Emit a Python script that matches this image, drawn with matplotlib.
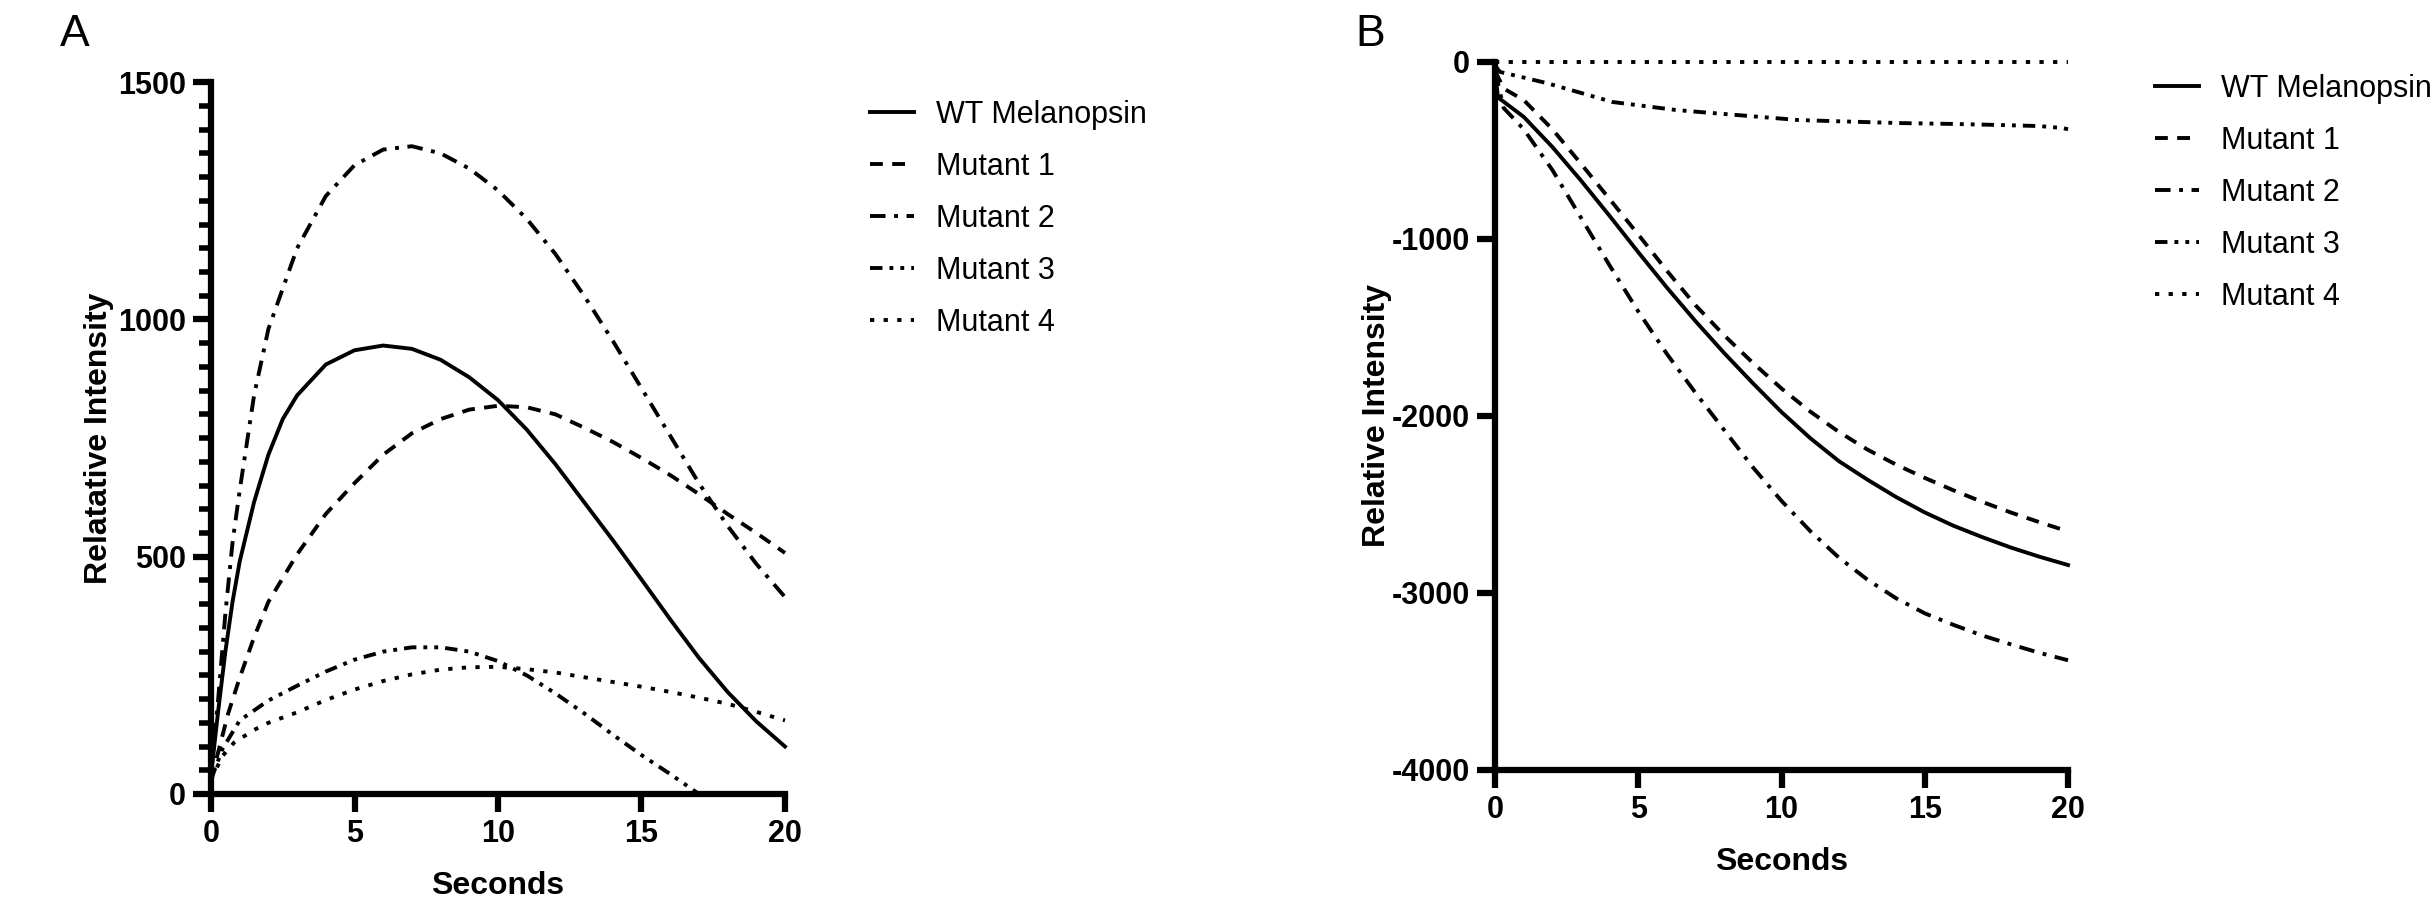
import numpy as np
import matplotlib.pyplot as plt
from matplotlib.ticker import MultipleLocator

plt.rcParams['font.family'] = ['Liberation Sans', 'DejaVu Sans']
plt.rcParams['axes.unicode_minus'] = False

labels = ['WT Melanopsin', 'Mutant 1', 'Mutant 2', 'Mutant 3', 'Mutant 4']
styles = ['-', (0, (3.3, 2.4)), (0, (4, 2.2, 1, 2.2)), (0, (3.2, 1.8, 1, 1.8, 1, 1.8)), (0, (1.1, 2.4))]

# panel A
a_wt_t = [0, 0.25, 0.5, 0.75, 1, 1.5, 2, 2.5, 3, 4, 5, 6, 7, 8, 9, 10, 11, 12, 13, 14, 15, 16, 17, 18, 19, 20]
a_wt_y = [40, 175, 300, 405, 490, 615, 715, 790, 840, 905, 935, 945, 938, 915, 878, 830, 768, 695, 615, 535, 452, 368, 287, 215, 153, 100]

a_m1_t = [0, 0.3, 0.6, 1, 1.5, 2, 3, 4, 5, 6, 7, 8, 9, 10, 11, 12, 13, 14, 15, 16, 17, 18, 19, 20]
a_m1_y = [30, 100, 170, 245, 330, 405, 505, 590, 655, 715, 760, 790, 810, 818, 815, 800, 772, 742, 708, 672, 632, 590, 550, 508]

a_m2_t = [0, 0.25, 0.5, 0.75, 1, 1.5, 2, 3, 4, 5, 6, 7, 8, 9, 10, 11, 12, 13, 14, 15, 16, 17, 18, 19, 20]
a_m2_y = [40, 200, 380, 530, 640, 840, 980, 1150, 1260, 1325, 1358, 1365, 1350, 1318, 1272, 1212, 1138, 1050, 955, 855, 755, 655, 565, 485, 415]

a_m3_t = [0, 0.4, 1, 2, 3, 4, 5, 6, 7, 8, 9, 10, 11, 12, 13, 14, 15, 16, 17]
a_m3_y = [30, 95, 155, 197, 228, 258, 283, 300, 309, 309, 300, 280, 250, 212, 170, 125, 82, 42, 0]

a_m4_t = [0, 0.4, 0.8, 1.5, 2, 3, 4, 5, 6, 7, 8, 9, 10, 11, 12, 13, 14, 15, 16, 17, 18, 19, 20]
a_m4_y = [30, 80, 108, 135, 150, 172, 198, 220, 238, 252, 262, 267, 268, 263, 256, 246, 236, 226, 215, 203, 190, 173, 155]

# panel B
b_wt_t = [0, 0.1, 1, 2, 3, 4, 5, 6, 7, 8, 9, 10, 11, 12, 13, 14, 15, 16, 17, 18, 19, 20]
b_wt_y = [-50, -200, -310, -480, -670, -870, -1075, -1275, -1465, -1645, -1815, -1978, -2125, -2255, -2360, -2458, -2545, -2620, -2684, -2743, -2795, -2842]

b_m1_t = [0, 0.3, 1, 2, 3, 4, 5, 6, 7, 8, 9, 10, 11, 12, 13, 14, 15, 16, 17, 18, 19, 20]
b_m1_y = [-50, -150, -215, -380, -575, -775, -975, -1180, -1375, -1545, -1700, -1845, -1975, -2090, -2190, -2275, -2350, -2420, -2485, -2545, -2600, -2652]

b_m2_t = [0, 0.3, 1, 2, 3, 4, 5, 6, 7, 8, 9, 10, 11, 12, 13, 14, 15, 16, 17, 18, 19, 20]
b_m2_y = [-50, -260, -380, -610, -880, -1150, -1410, -1650, -1870, -2080, -2290, -2480, -2650, -2800, -2925, -3030, -3115, -3180, -3240, -3290, -3338, -3380]

b_m3_t = [0, 0.17, 1.8, 4.1, 6.3, 7.1, 10.6, 12, 14.1, 16, 17.6, 19, 19.8, 20]
b_m3_y = [-20, -56, -119, -226, -271, -282, -328, -335, -345, -350, -356, -362, -373, -380]

b_m4_t = [0, 5, 10, 15, 20]
b_m4_y = [0, 0, 0, 0, 0]

fig = plt.figure(figsize=(24.31, 9.01), dpi=100)
axA = fig.add_axes([0.0868, 0.1188, 0.2361, 0.790])
axB = fig.add_axes([0.615, 0.1454, 0.2357, 0.7858])

seriesA = [(a_wt_t, a_wt_y), (a_m1_t, a_m1_y), (a_m2_t, a_m2_y), (a_m3_t, a_m3_y), (a_m4_t, a_m4_y)]
seriesB = [(b_wt_t, b_wt_y), (b_m1_t, b_m1_y), (b_m2_t, b_m2_y), (b_m3_t, b_m3_y), (b_m4_t, b_m4_y)]

for ax, series in [(axA, seriesA), (axB, seriesB)]:
    for (t, y), lab, ls in zip(series, labels, styles):
        ax.plot(t, y, color='black', lw=2.8, linestyle=ls, label=lab, clip_on=False)
    ax.set_xlim(0, 20)
    ax.xaxis.set_major_locator(MultipleLocator(5))
    for side in ['top', 'right']:
        ax.spines[side].set_visible(False)
    for side in ['left', 'bottom']:
        ax.spines[side].set_linewidth(4.5)
    ax.tick_params(which='major', length=13, width=4.5, pad=5, labelsize=22)
    ax.tick_params(which='minor', length=9, width=4)
    ax.set_xlabel('Seconds', fontsize=23, fontweight='bold', labelpad=16)

axA.set_ylim(0, 1500)
axA.yaxis.set_major_locator(MultipleLocator(500))
axA.yaxis.set_minor_locator(MultipleLocator(50))
axA.set_ylabel('Relatative Intensity', fontsize=23, fontweight='bold', labelpad=3)

axB.set_ylim(-4000, 0)
axB.yaxis.set_major_locator(MultipleLocator(1000))
axB.set_ylabel('Relative Intensity', fontsize=23, fontweight='bold', labelpad=0)

for ax in [axA, axB]:
    for lbl in ax.get_xticklabels() + ax.get_yticklabels():
        lbl.set_fontweight('bold')

axA.legend(loc='upper left', bbox_to_anchor=(0.3579, 0.889), bbox_transform=fig.transFigure,
           frameon=False, fontsize=22, handlelength=1.45, handletextpad=0.7,
           labelspacing=0.72, borderpad=0, borderaxespad=0)
axB.legend(loc='upper left', bbox_to_anchor=(0.8865, 0.918), bbox_transform=fig.transFigure,
           frameon=False, fontsize=22, handlelength=1.45, handletextpad=0.7,
           labelspacing=0.72, borderpad=0, borderaxespad=0)

fig.text(0.0247, 0.962, 'A', fontsize=32, ha='left', va='center')
fig.text(0.5575, 0.962, 'B', fontsize=32, ha='left', va='center')

fig.savefig('out.png', dpi=100)
